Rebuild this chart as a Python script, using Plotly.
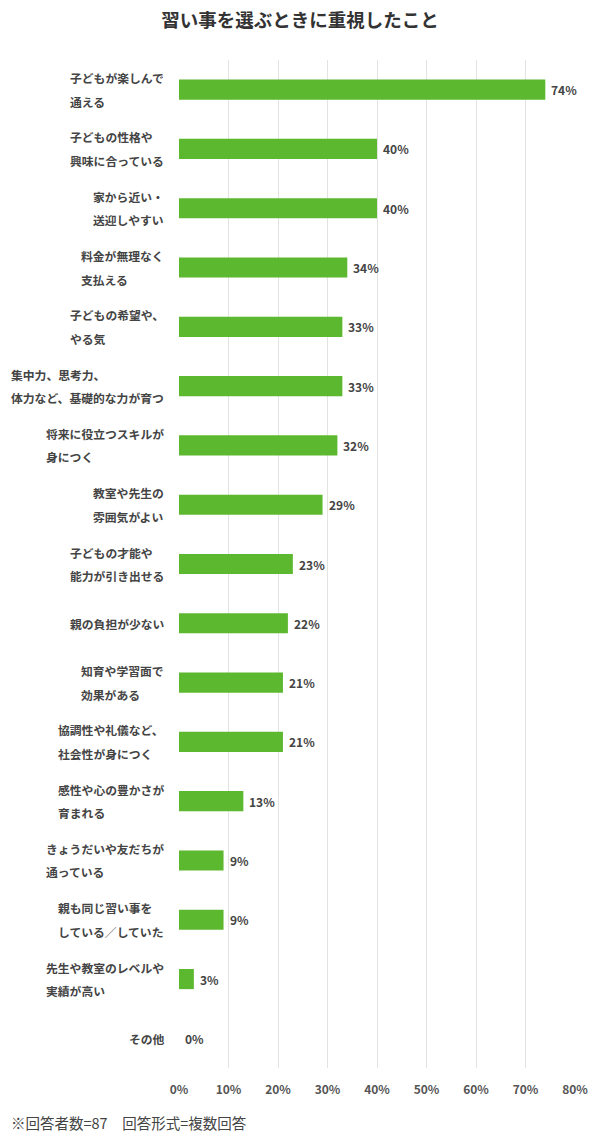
import plotly.graph_objects as go

# Data
label_line1 = [
    '子どもが楽しんで', '子どもの性格や', '家から近い・', '料金が無理なく',
    '子どもの希望や、', '集中力、思考力、', '将来に役立つスキルが', '教室や先生の',
    '子どもの才能や', '親の負担が少ない', '知育や学習面で', '協調性や礼儀など、',
    '感性や心の豊かさが', 'きょうだいや友だちが', '親も同じ習い事を',
    '先生や教室のレベルや', 'その他',
]
label_line2 = [
    '通える', '興味に合っている', '送迎しやすい', '支払える',
    'やる気', '体力など、基礎的な力が育つ', '身につく', '雰囲気がよい',
    '能力が引き出せる', '', '効果がある', '社会性が身につく',
    '育まれる', '通っている', 'している／していた',
    '実績が高い', '',
]
values = [74, 40, 40, 34, 33, 33, 32, 29, 23, 22, 21, 21, 13, 9, 9, 3, 0]
tick_vals = [0, 10, 20, 30, 40, 50, 60, 70, 80]

categories = [a + b for a, b in zip(label_line1, label_line2)]

FONT = 'Noto Sans CJK JP'
GREEN = '#5cb82e'
LABEL_SIZE = 11.8

fig = go.Figure(go.Bar(
    x=values, y=categories, orientation='h',
    marker=dict(color=GREEN, line=dict(width=0)),
    width=0.34,
))

# category labels: two lines, left aligned, block ending left of the axis
for cat, l1, l2 in zip(categories, label_line1, label_line2):
    n = max(len(l1), len(l2))
    lines = [(l1, 0)] if not l2 else [(l1, 12), (l2, -11.5)]
    for txt, dy in lines:
        fig.add_annotation(
            x=0, y=cat, xref='x', yref='y', text=txt, showarrow=False,
            xanchor='left', yanchor='middle', xshift=-(17 + n * LABEL_SIZE), yshift=dy,
            font=dict(family=FONT, size=LABEL_SIZE, color='#444', weight='bold'),
        )

# value labels at the end of each bar
for cat, v in zip(categories, values):
    fig.add_annotation(
        x=v, y=cat, xref='x', yref='y', text=f'{v}%', showarrow=False,
        xanchor='left', yanchor='middle', xshift=4,
        font=dict(family=FONT, size=12, color='#444', weight='bold'),
    )

fig.add_annotation(
    x=0, y=0, xref='paper', yref='paper', xanchor='left', yanchor='middle',
    xshift=-170, yshift=-54, showarrow=False,
    text='※回答者数=87　回答形式=複数回答',
    font=dict(family=FONT, size=14.5, color='#444'),
)

fig.update_layout(
    width=600, height=1140,
    margin=dict(l=179, r=25, t=60, b=72),
    plot_bgcolor='white', paper_bgcolor='white',
    showlegend=False,
    title=dict(text='習い事を選ぶときに重視したこと', x=0.5, xanchor='center',
               y=1 - 21 / 1140, yanchor='middle',
               font=dict(family=FONT, size=18.5, color='#333', weight='bold')),
    xaxis=dict(range=[0, 80], tickvals=tick_vals,
               ticktext=[f'{v}%' for v in tick_vals],
               showgrid=True, gridcolor='#e3e3e3', gridwidth=1,
               zeroline=False, showline=False, ticks='',
               ticklabelstandoff=13,
               tickfont=dict(family=FONT, size=12, color='#555', weight='bold')),
    yaxis=dict(autorange='reversed', showticklabels=False, showgrid=False,
               zeroline=False, ticks=''),
)

fig.write_html('out.html', config={'displayModeBar': False},
               post_script="document.body.style.margin='0';")
